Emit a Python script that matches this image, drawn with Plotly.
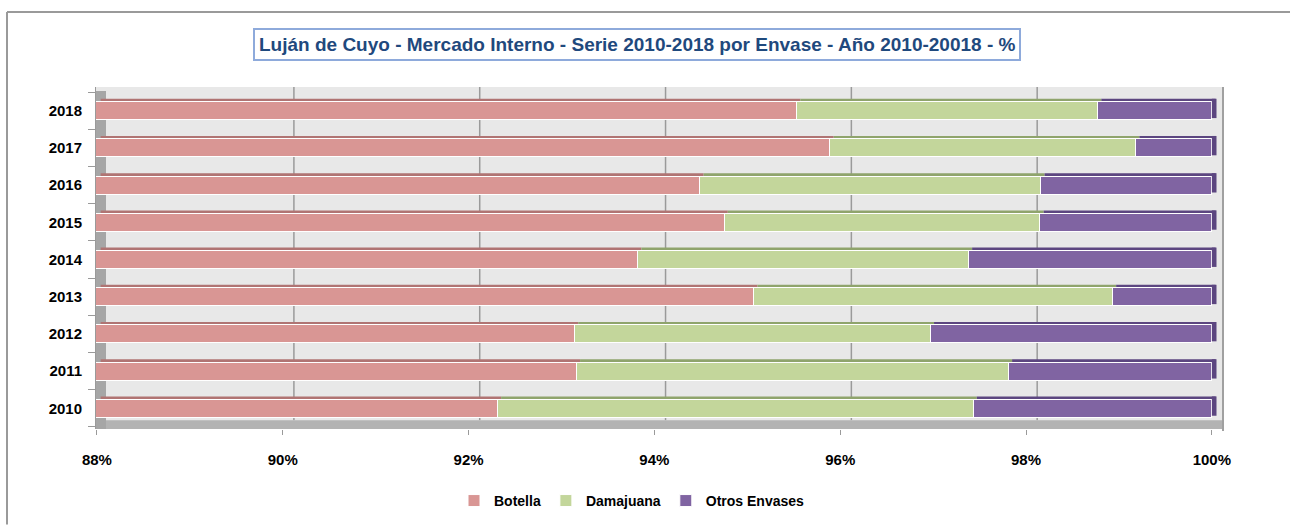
import plotly.graph_objects as go

# Market share by container type, Luján de Cuyo domestic market (%)
years = ["2010", "2011", "2012", "2013", "2014", "2015", "2016", "2017", "2018"]
botella = [92.31, 93.16, 93.14, 95.07, 93.82, 94.75, 94.49, 95.89, 95.53]
damajuana = [5.12, 4.65, 3.83, 3.86, 3.56, 3.40, 3.67, 3.29, 3.24]
otros = [2.57, 2.19, 3.03, 1.07, 2.62, 1.85, 1.84, 0.82, 1.23]
x_ticks = [88, 90, 92, 94, 96, 98, 100]
x_tick_text = ["88%", "90%", "92%", "94%", "96%", "98%", "100%"]

series = [
    ("Botella", botella, "#D99694", "#B07473"),
    ("Damajuana", damajuana, "#C3D69B", "#8FA46C"),
    ("Otros Envases", otros, "#8064A2", "#5C4680"),
]

# canvas geometry (pixels) used to place paper-referenced decorations
W, H = 1290, 529
ML, MR, MT, MB = 96, 67, 87, 95
PW = W - ML - MR
PH = H - MT - MB


def px_x(p):
    return (p - ML) / PW


def px_y(p):
    return (H - MB - p) / PH


BAR_W = 0.48
fig = go.Figure()
for name, vals, col, dark in series:
    fig.add_trace(go.Bar(
        y=years, x=vals, name=name, orientation="h",
        width=BAR_W,
        marker=dict(color=col, line=dict(color="white", width=1)),
        hoverinfo="x+y+name",
    ))

shapes = []
# back-wall gridlines, shifted to the rear plane
for t in x_ticks[1:-1]:
    shapes.append(dict(type="line", xref="x", yref="paper",
                       x0=t + 0.12, x1=t + 0.12, y0=px_y(425), y1=1,
                       line=dict(color="#9a9a9a", width=1.5), layer="below"))
# floor and left wall
shapes.append(dict(type="rect", xref="paper", yref="paper",
                   x0=0, x1=1, y0=0, y1=px_y(425),
                   fillcolor="#b3b3b3", line=dict(width=0), layer="below"))
shapes.append(dict(type="rect", xref="paper", yref="paper",
                   x0=0, x1=px_x(106), y0=0, y1=px_y(91),
                   fillcolor="#a6a6a6", line=dict(width=0), layer="below"))
shapes.append(dict(type="line", xref="paper", yref="paper",
                   x0=1, x1=1, y0=px_y(436), y1=1,
                   line=dict(color="#a0a0a0", width=2), layer="below"))

# darker top faces and right-end sides of the bars
for i, y in enumerate(years):
    left = 0.0
    for k, (name, vals, col, dark) in enumerate(series):
        right = left + vals[i]
        x0 = max(left, 88.0) + 0.04
        shapes.append(dict(type="rect", xref="x", yref="y",
                           x0=x0, x1=right + 0.04,
                           y0=i + BAR_W / 2, y1=i + BAR_W / 2 + 0.08,
                           fillcolor=dark, line=dict(width=0), layer="below"))
        if k == len(series) - 1:
            shapes.append(dict(type="rect", xref="x", yref="y",
                               x0=right, x1=right + 0.05,
                               y0=i - BAR_W / 2 + 0.04, y1=i + BAR_W / 2 + 0.08,
                               fillcolor=dark, line=dict(width=0), layer="above"))
        left = right

# outer chart frame
shapes.append(dict(type="line", xref="paper", yref="paper",
                   x0=px_x(7), x1=px_x(7), y0=px_y(H + 2), y1=px_y(11),
                   line=dict(color="#9a9a9a", width=2)))
shapes.append(dict(type="line", xref="paper", yref="paper",
                   x0=px_x(7), x1=px_x(W + 2), y0=px_y(11), y1=px_y(11),
                   line=dict(color="#9a9a9a", width=2)))

font_main = "Liberation Sans, Arial, sans-serif"

fig.update_layout(
    width=W, height=H,
    barmode="stack",
    margin=dict(l=ML, r=MR, t=MT, b=MB),
    paper_bgcolor="white",
    plot_bgcolor="#e8e8e8",
    font=dict(family=font_main, color="black"),
    bargap=0.5,
    shapes=shapes,
    showlegend=True,
    legend=dict(orientation="h", x=px_x(632), xanchor="center",
                y=px_y(507), yanchor="middle", traceorder="normal",
                font=dict(size=14, family=font_main, color="black", weight="bold"),
                itemwidth=30, tracegroupgap=0),
    annotations=[dict(
        text="<b>Luján de Cuyo - Mercado Interno - Serie 2010-2018 por Envase - Año 2010-20018 - %</b>",
        xref="paper", yref="paper", x=px_x(637), y=px_y(44),
        xanchor="center", yanchor="middle", showarrow=False,
        font=dict(size=19, color="#1F497D", family=font_main),
        bordercolor="#8EAADB", borderwidth=2, borderpad=4, bgcolor="white",
    )],
)

fig.update_xaxes(
    range=[87.99, 100.12],
    tickvals=x_ticks, ticktext=x_tick_text,
    showgrid=False, zeroline=False,
    ticks="outside", ticklen=5, tickcolor="#9a9a9a", tickwidth=1,
    tickfont=dict(size=15, family=font_main, color="black", weight="bold"),
    ticklabelstandoff=12,
    showline=False,
)
fig.update_yaxes(
    type="category", categoryorder="array", categoryarray=years,
    range=[-0.556, 8.636],
    showgrid=False, zeroline=False,
    ticks="outside", tickson="boundaries", ticklen=7,
    tickcolor="#9a9a9a", tickwidth=1,
    tickfont=dict(size=15, family=font_main, color="black", weight="bold"),
    ticklabelstandoff=10,
    showline=True, linecolor="#9a9a9a", linewidth=1,
)

fig.write_html("out.html")
